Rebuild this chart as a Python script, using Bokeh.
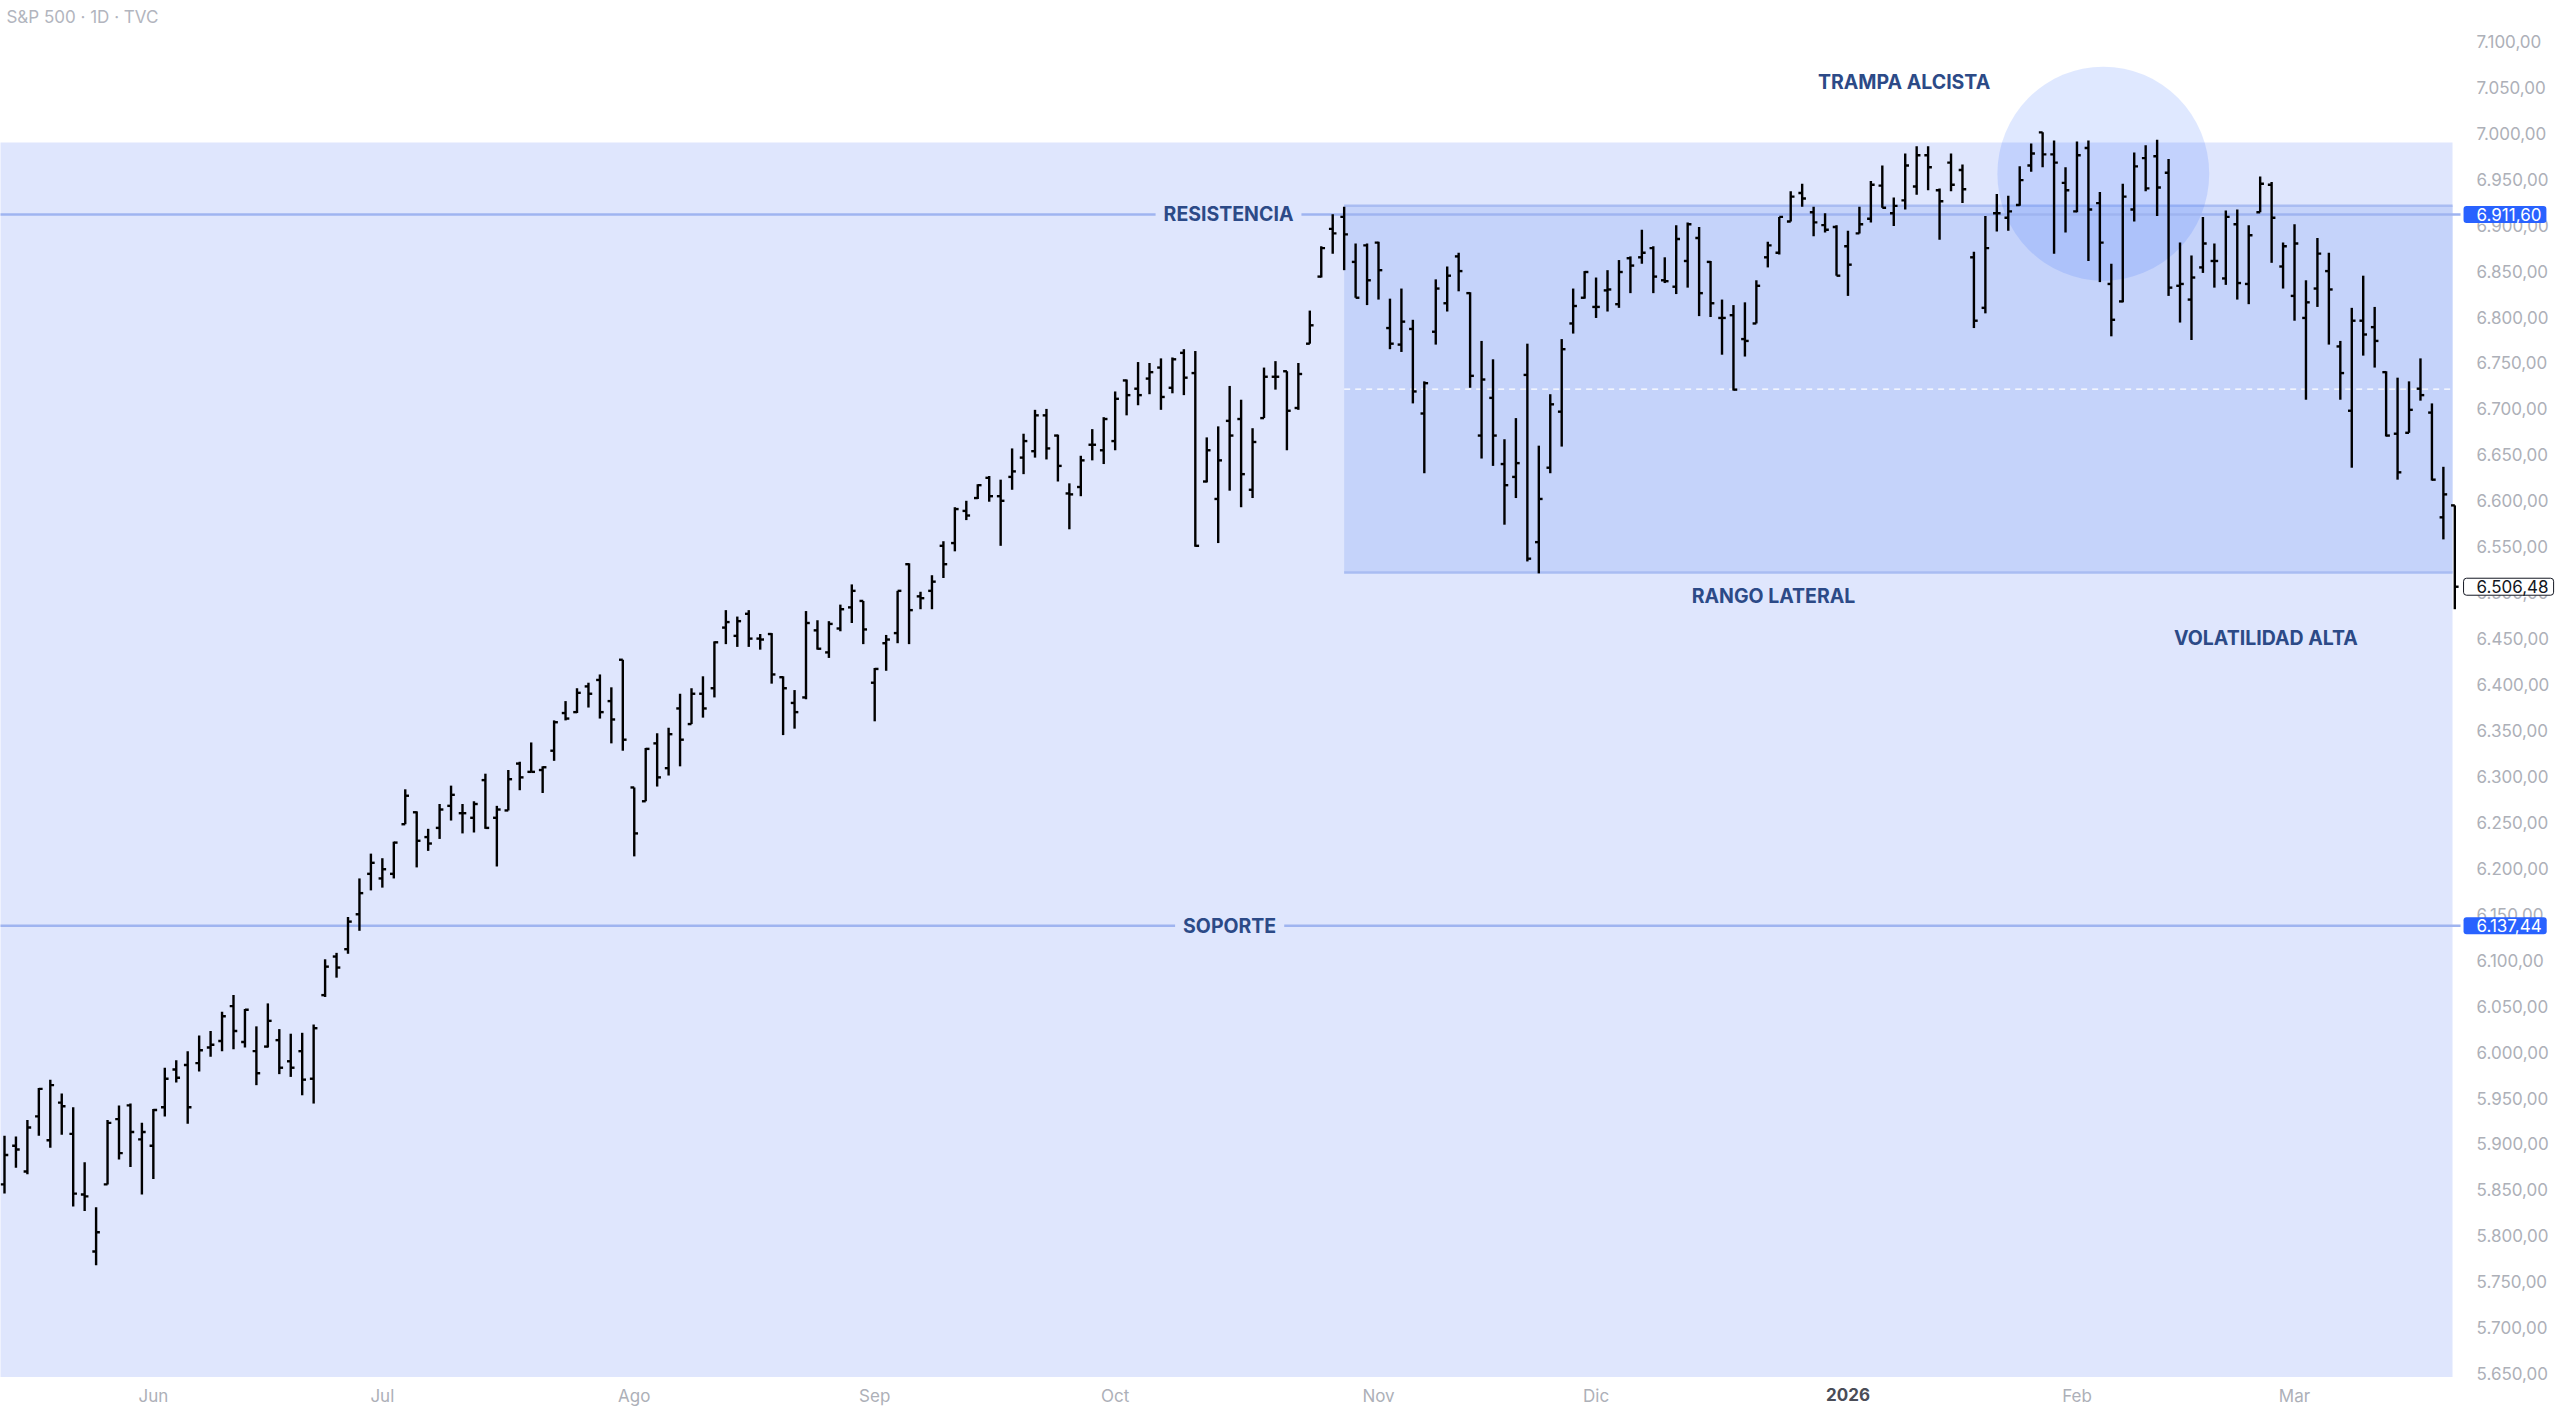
from bokeh.plotting import figure
from bokeh.models import Range1d, LinearAxis, FixedTicker, Label
from bokeh.embed import file_html
from bokeh.resources import INLINE

# ---------------- data (S&P 500 daily bars, 13 May 2025 .. 20 Mar 2026) ----------------
opens = [5856, 5898, 5870, 5930, 5904, 5945, 5911, 5845, 5783, 5856, 5927, 5942, 5905, 5898, 5940,
         5981, 5986, 5988, 6005, 6012, 6050, 6011, 6001, 6006, 6013, 5990, 6001, 5971, 6062, 6104,
         6112, 6150, 6194, 6189, 6194, 6248, 6261, 6234, 6244, 6268, 6260, 6255, 6296, 6255, 6263,
         6314, 6305, 6307, 6328, 6369, 6370, 6398, 6405, 6382, 6427, 6288, 6273, 6336, 6309, 6374,
         6357, 6390, 6396, 6462, 6453, 6477, 6450, 6455, 6408, 6380, 6386, 6459, 6435, 6461, 6484,
         6491, 6402, 6445, 6456, 6531, 6496, 6502, 6551, 6554, 6589, 6603, 6625, 6605, 6626, 6647,
         6654, 6693, 6671, 6608, 6615, 6661, 6655, 6665, 6731, 6722, 6733, 6745, 6723, 6761, 6739,
         6621, 6602, 6687, 6689, 6612, 6690, 6735, 6741, 6701, 6771, 6844, 6896, 6909, 6860, 6878,
         6881, 6788, 6770, 6787, 6695, 6784, 6815, 6866, 6826, 6671, 6712, 6640, 6626, 6737, 6555,
         6636, 6697, 6793, 6821, 6811, 6829, 6814, 6864, 6865, 6875, 6840, 6833, 6861, 6886, 6860,
         6799, 6802, 6776, 6793, 6865, 6870, 6904, 6935, 6914, 6900, 6898, 6877, 6891, 6907, 6943,
         6913, 6927, 6942, 6976, 6938, 6968, 6960, 6865, 6810, 6913, 6908, 6922, 6965, 7001, 6977,
         6946, 6915, 6984, 6924, 6836, 6817, 6917, 6973, 6975, 6957, 6834, 6819, 6854, 6861, 6842,
         6901, 6836, 6914, 6944, 6855, 6823, 6799, 6831, 6850, 6768, 6698, 6796, 6789, 6740, 6673,
         6674, 6722, 6696, 6582, 6595]
highs = [5909, 5908, 5926, 5961, 5970, 5955, 5940, 5880, 5831, 5926, 5942, 5944, 5923, 5938, 5983,
         5991, 6001, 6018, 6023, 6044, 6062, 6047, 6028, 6053, 6025, 6020, 6021, 6030, 6101, 6108,
         6147, 6189, 6216, 6211, 6229, 6286, 6262, 6243, 6270, 6290, 6270, 6273, 6303, 6268, 6307,
         6316, 6337, 6311, 6361, 6382, 6396, 6402, 6411, 6397, 6427, 6288, 6331, 6347, 6353, 6390,
         6396, 6409, 6447, 6481, 6474, 6481, 6455, 6456, 6409, 6394, 6480, 6470, 6469, 6487, 6509,
         6491, 6418, 6454, 6502, 6532, 6501, 6519, 6556, 6593, 6600, 6618, 6627, 6623, 6657, 6673,
         6699, 6700, 6672, 6619, 6649, 6678, 6691, 6719, 6732, 6751, 6750, 6755, 6756, 6765, 6763,
         6669, 6681, 6725, 6710, 6679, 6745, 6752, 6741, 6750, 6807, 6877, 6912, 6920, 6880, 6880,
         6882, 6820, 6831, 6797, 6730, 6841, 6855, 6870, 6827, 6774, 6754, 6667, 6690, 6771, 6660,
         6716, 6776, 6831, 6850, 6843, 6851, 6862, 6866, 6895, 6877, 6865, 6900, 6903, 6898, 6861,
         6819, 6813, 6816, 6840, 6882, 6909, 6937, 6945, 6920, 6913, 6900, 6894, 6920, 6948, 6965,
         6930, 6978, 6986, 6986, 6940, 6978, 6966, 6871, 6910, 6934, 6932, 6964, 6989, 7001, 6992,
         6963, 6991, 6992, 6936, 6858, 6945, 6979, 6987, 6993, 6972, 6881, 6867, 6909, 6880, 6916,
         6917, 6900, 6953, 6947, 6881, 6901, 6840, 6886, 6870, 6774, 6810, 6845, 6811, 6741, 6734,
         6730, 6755, 6706, 6637, 6595]
lows = [5846, 5874, 5867, 5909, 5896, 5910, 5832, 5827, 5768, 5856, 5883, 5875, 5845, 5862, 5930,
        5967, 5922, 5979, 5995, 6001, 6003, 6005, 5964, 6005, 5976, 5973, 5953, 5944, 6060, 6081,
        6107, 6132, 6176, 6179, 6189, 6248, 6201, 6219, 6232, 6252, 6238, 6239, 6243, 6202, 6263,
        6285, 6305, 6282, 6317, 6361, 6369, 6375, 6363, 6336, 6328, 6213, 6273, 6289, 6301, 6311,
        6357, 6364, 6386, 6444, 6441, 6441, 6438, 6401, 6345, 6352, 6384, 6438, 6429, 6458, 6467,
        6444, 6360, 6415, 6445, 6444, 6482, 6482, 6516, 6545, 6579, 6602, 6599, 6551, 6612, 6629,
        6647, 6645, 6621, 6569, 6605, 6644, 6640, 6655, 6693, 6704, 6716, 6699, 6717, 6715, 6550,
        6620, 6554, 6611, 6593, 6603, 6690, 6721, 6655, 6699, 6771, 6843, 6869, 6851, 6821, 6813,
        6819, 6765, 6762, 6706, 6630, 6770, 6806, 6828, 6723, 6646, 6638, 6574, 6603, 6534, 6521,
        6630, 6659, 6782, 6820, 6799, 6806, 6810, 6826, 6858, 6826, 6837, 6825, 6832, 6801, 6800,
        6759, 6720, 6757, 6793, 6854, 6868, 6904, 6920, 6888, 6892, 6845, 6823, 6891, 6903, 6919,
        6899, 6917, 6933, 6938, 6884, 6937, 6924, 6788, 6804, 6893, 6894, 6921, 6958, 6963, 6869,
        6892, 6914, 6861, 6838, 6779, 6816, 6904, 6937, 6910, 6823, 6794, 6775, 6848, 6832, 6835,
        6819, 6814, 6914, 6859, 6831, 6796, 6710, 6811, 6770, 6710, 6636, 6758, 6745, 6670, 6623,
        6674, 6709, 6622, 6558, 6482]
closes = [5888, 5894, 5918, 5960, 5964, 5941, 5846, 5843, 5804, 5923, 5890, 5913, 5913, 5937, 5971,
          5972, 5940, 6002, 6008, 6039, 6023, 6046, 5977, 6034, 5983, 5983, 5970, 6026, 6093, 6092,
          6142, 6173, 6206, 6199, 6228, 6279, 6230, 6227, 6264, 6280, 6260, 6270, 6244, 6264, 6297,
          6299, 6305, 6310, 6359, 6363, 6391, 6390, 6370, 6362, 6340, 6238, 6330, 6299, 6346, 6340,
          6390, 6374, 6446, 6468, 6469, 6450, 6449, 6411, 6396, 6370, 6467, 6439, 6466, 6482, 6502,
          6460, 6417, 6449, 6502, 6481, 6494, 6512, 6531, 6591, 6584, 6617, 6605, 6600, 6632, 6665,
          6693, 6657, 6638, 6607, 6644, 6661, 6689, 6711, 6715, 6715, 6740, 6713, 6754, 6734, 6551,
          6655, 6644, 6671, 6629, 6664, 6735, 6735, 6698, 6738, 6791, 6875, 6891, 6890, 6821, 6840,
          6851, 6771, 6795, 6719, 6728, 6831, 6845, 6850, 6736, 6732, 6671, 6617, 6641, 6537, 6602,
          6705, 6765, 6812, 6849, 6811, 6830, 6849, 6856, 6870, 6844, 6839, 6885, 6901, 6826, 6815,
          6799, 6721, 6774, 6834, 6878, 6909, 6931, 6929, 6903, 6895, 6845, 6857, 6901, 6944, 6919,
          6921, 6965, 6976, 6963, 6926, 6944, 6939, 6796, 6875, 6913, 6915, 6949, 6978, 6977, 6968,
          6938, 6976, 6917, 6881, 6797, 6931, 6964, 6940, 6941, 6832, 6836, 6843, 6880, 6861, 6909,
          6837, 6889, 6945, 6908, 6877, 6880, 6816, 6869, 6830, 6739, 6796, 6781, 6774, 6671, 6631,
          6699, 6715, 6623, 6607, 6506.48]

month_ticks = [13, 33, 55, 76, 97, 120, 139, 161, 181, 200]
month_labels = ["Jun", "Jul", "Ago", "Sep", "Oct", "Nov", "Dic", "2026", "Feb", "Mar"]
price_ticks = list(range(5650, 7151, 50))

resistance = 6911.60
support = 6137.44
last_close = closes[-1]
range_start = 117
range_top = 6921
range_bottom = 6522
zone_top = 6990


def fmt_es(v):
    s = f"{v:,.2f}"
    return s.replace(",", "X").replace(".", ",").replace("X", ".")


n = len(opens)
idx = list(range(n))

# view geometry (data units): plot area ends at X_EDGE / Y_EDGE, scales sit beyond
W, H = 2556, 1408
X_MIN, X_MAX = -0.349, 222.88
Y_MIN, Y_MAX = 5612.1, 7144.5
X_EDGE = 214.5
Y_EDGE = 5646.4
x_end = n - 1 - 0.2

FONT = "Inter"
NAVY = "#2c4a87"
BG1 = "#dfe6fd"
BG2 = "#c5d3fa"
LINE = "#9fb4f0"
AXIS_GREY = "#adb0b8"

p = figure(width=W, height=H, output_backend="svg", toolbar_location=None,
           x_range=Range1d(X_MIN, X_MAX), y_range=Range1d(Y_MIN, Y_MAX),
           x_axis_location=None, y_axis_location=None, min_border=0,
           min_border_left=0, min_border_right=0, min_border_top=0, min_border_bottom=0)
p.outline_line_color = None
p.xgrid.visible = False
p.ygrid.visible = False
p.background_fill_color = "white"
p.border_fill_color = "white"

# zones
p.quad(left=X_MIN - 1, right=x_end, top=zone_top, bottom=Y_EDGE, fill_color=BG1, line_color=None)
p.quad(left=range_start, right=x_end, top=range_top, bottom=range_bottom, fill_color=BG2, line_color=None)
p.segment(x0=[range_start, range_start], y0=[range_top, range_bottom], x1=[x_end, x_end],
          y1=[range_top, range_bottom], line_color="#a9bcf2", line_width=2.5)
p.segment(x0=[range_start], y0=[(range_top + range_bottom) / 2], x1=[x_end],
          y1=[(range_top + range_bottom) / 2], line_color="white", line_width=1.2, line_dash="6 5")
p.ellipse(x=[183.3], y=[6956], width=18.5, height=233, fill_color="#2962ff", fill_alpha=0.15,
          line_color=None)

# horizontal levels
p.segment(x0=[X_MIN - 1, X_MIN - 1], y0=[resistance, support], x1=[X_EDGE, X_EDGE],
          y1=[resistance, support], line_color=LINE, line_width=2.5)

# OHLC bars
lw = 2.4
p.segment(x0=idx, y0=lows, x1=idx, y1=highs, line_color="#000000", line_width=lw)
p.segment(x0=[i - 0.33 for i in idx], y0=opens, x1=idx, y1=opens, line_color="#000000", line_width=lw)
p.segment(x0=idx, y0=closes, x1=[i + 0.33 for i in idx], y1=closes, line_color="#000000", line_width=lw)

# month axis (below the plot area)
xa = LinearAxis(ticker=FixedTicker(ticks=month_ticks), fixed_location=Y_EDGE,
                major_label_overrides={t: (lab if lab != "2026" else " ")
                                       for t, lab in zip(month_ticks, month_labels)})
# price axis (right of the plot area)
ya = LinearAxis(ticker=FixedTicker(ticks=price_ticks), fixed_location=X_EDGE,
                major_label_overrides={t: fmt_es(t) for t in price_ticks})
for ax in (xa, ya):
    ax.axis_line_color = None
    ax.major_tick_line_color = None
    ax.minor_tick_line_color = None
    ax.major_tick_out = 0
    ax.major_tick_in = 0
    ax.major_label_text_font = FONT
    ax.major_label_text_font_size = "17px"
    ax.major_label_text_color = AXIS_GREY
xa.major_label_standoff = 9
ya.major_label_standoff = 16
p.add_layout(xa, "below")
p.add_layout(ya, "right")

# annotations
def note(x, y, txt, bg=None):
    kw = {}
    if bg:
        kw = dict(background_fill_color=bg, padding=8)
    p.add_layout(Label(x=x, y=y, text=txt, text_align="center", text_baseline="middle",
                       text_font=FONT, text_font_size="19.5px", text_font_style="bold",
                       text_color=NAVY, **kw))

note(106.9, resistance, "RESISTENCIA", BG1)
note(107.0, support, "SOPORTE", BG1)
note(154.5, 6496, "RANGO LATERAL")
note(165.9, 7055.7, "TRAMPA ALCISTA")
note(197.5, 6451, "VOLATILIDAD ALTA")

p.add_layout(Label(x=0.17, y=7127, text="S&P 500 · 1D · TVC", text_align="left",
                   text_baseline="middle", text_font=FONT, text_font_size="17px",
                   text_color="#b2b5be"))

p.add_layout(Label(x=161, y=5627.4, text="2026", text_align="center", text_baseline="middle",
                   text_font=FONT, text_font_size="17px", text_font_style="bold",
                   text_color="#4a4d57"))

# price tags on the scale (box starts 3px right of the plot area, text inset 13px)
def tag(y, txt, fill, color, border=None):
    p.add_layout(Label(x=X_EDGE, y=y, x_offset=3, text=txt, text_align="left",
                       text_baseline="middle", text_font=FONT, text_font_size="17px",
                       text_color=color, background_fill_color=fill,
                       border_line_color=border, border_line_width=1,
                       padding=(13, 5, 2, 2), border_radius=3))

tag(resistance, fmt_es(resistance), "#2962ff", "white")
tag(support, fmt_es(support), "#2962ff", "white")
tag(last_close, fmt_es(last_close), "white", "#131722", border="#131722")

open("out.html", "w").write(file_html(p, INLINE))
